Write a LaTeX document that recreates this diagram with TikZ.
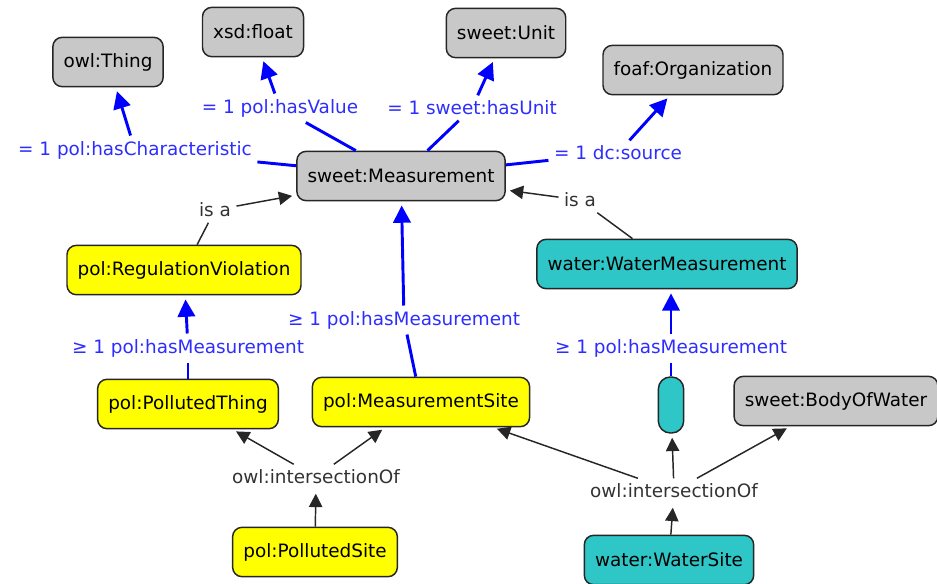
\documentclass[tikz,border=0pt]{standalone}
\usepackage{fontspec}
\setmainfont{DejaVu Sans}
\usepackage{tikz}
\usetikzlibrary{arrows.meta}

\definecolor{clsgrey}{RGB}{200,200,200}
\definecolor{clsyellow}{RGB}{255,255,0}
\definecolor{clscyan}{RGB}{46,198,198}
\definecolor{relblue}{RGB}{0,0,255}
\definecolor{lblblue}{RGB}{45,45,255}

\begin{document}
\begin{tikzpicture}[x=0.75pt,y=0.75pt,yscale=-1,xscale=1,
  every node/.style={font=\fontsize{13.8}{16}\selectfont},
  cls/.style={draw=black!85, line width=1.1pt, rounded corners=7pt, inner xsep=8pt, minimum height=37pt},
  greycls/.style={cls, fill=clsgrey},
  yellowcls/.style={cls, fill=clsyellow},
  cyancls/.style={cls, fill=clscyan},
  proplbl/.style={text=lblblue, inner sep=4pt},
  isalbl/.style={text=black!80, inner sep=4pt},
  propline/.style={draw=relblue, line width=2.2pt},
  proparrow/.style={propline, -{Triangle[length=13pt,width=13pt]}, shorten >=3pt},
  isaline/.style={draw=black!85, line width=1.1pt},
  isaarrow/.style={isaline, -{Triangle[length=10pt,width=10pt]}, shorten >=3pt}]
\useasboundingbox (0,0) rectangle (937,583);

%Shape: Class boxes
\draw (108,62) node [greycls] (thing) {owl:Thing};
\draw (253,32) node [greycls] (float) {xsd:float};
\draw (506,33) node [greycls] (unit) {sweet:Unit};
\draw (693,70) node [greycls] (org) {foaf:Organization};
\draw (401,176) node [greycls] (meas) {sweet:Measurement};
\draw (184,270) node [yellowcls] (regviol) {pol:RegulationViolation};
\draw (667,264) node [cyancls] (watermeas) {water:WaterMeasurement};
\draw (188,404) node [yellowcls] (pollthing) {pol:PollutedThing};
\draw (421,402) node [yellowcls] (meassite) {pol:MeasurementSite};
\draw (671,405) node [cyancls, inner sep=0pt, minimum width=19pt, minimum height=42pt, rounded corners=9pt] (anon) {};
\draw (836,401) node [greycls] (body) {sweet:BodyOfWater};
\draw (315,552) node [yellowcls] (pollsite) {pol:PollutedSite};
\draw (669,560) node [cyancls] (watersite) {water:WaterSite};

% Text Node
\draw (135,150) node [proplbl] (hchar) {= 1 pol:hasCharacteristic};
\draw (280,108) node [proplbl] (hval) {= 1 pol:hasValue};
\draw (472,108) node [proplbl] (hunit) {= 1 sweet:hasUnit};
\draw (618,153) node [proplbl] (hsrc) {= 1 dc:source};
\draw (215,210) node [isalbl] (isaleft) {is a};
\draw (580,200) node [isalbl] (isaright) {is a};
\draw (404,320) node [proplbl] (hmeasmid) {≥ 1 pol:hasMeasurement};
\draw (188,348) node [proplbl] (hmeasleft) {≥ 1 pol:hasMeasurement};
\draw (671,348) node [proplbl] (hmeasright) {≥ 1 pol:hasMeasurement};
\draw (316,477) node [isalbl] (intleft) {owl:intersectionOf};
\draw (674,491) node [isalbl] (intright) {owl:intersectionOf};

%Straight Lines: properties of sweet:Measurement
\draw [propline] (meas) -- (hchar);
\draw [proparrow] (hchar) -- (thing);
\draw [propline] (meas) -- (hval);
\draw [proparrow] (hval) -- (float);
\draw [propline] (meas) -- (hunit);
\draw [proparrow] (hunit) -- (unit);
\draw [propline] (meas) -- (hsrc);
\draw [proparrow] (hsrc) -- (org);

%Straight Lines: subclasses
\draw [isaline] (regviol) -- (isaleft);
\draw [isaarrow] (isaleft) -- (meas);
\draw [isaline] (watermeas) -- (isaright);
\draw [isaarrow] (isaright) -- (meas);

%Straight Lines: hasMeasurement
\draw [propline] (meassite) -- (hmeasmid);
\draw [proparrow] (hmeasmid) -- (meas);
\draw [propline] (pollthing) -- (hmeasleft);
\draw [proparrow] (hmeasleft) -- (regviol);
\draw [propline] (anon) -- (hmeasright);
\draw [proparrow] (hmeasright) -- (hmeasright |- watermeas.south);

%Straight Lines: intersections
\draw [isaarrow] (pollsite) -- (intleft);
\draw [isaarrow] (intleft) -- (pollthing);
\draw [isaarrow] (intleft) -- (meassite);
\draw [isaarrow] (watersite) -- (intright);
\draw [isaarrow] (intright) -- (meassite);
\draw [isaarrow] (intright) -- (anon);
\draw [isaarrow] (intright) -- (body);

\end{tikzpicture}
\end{document}
